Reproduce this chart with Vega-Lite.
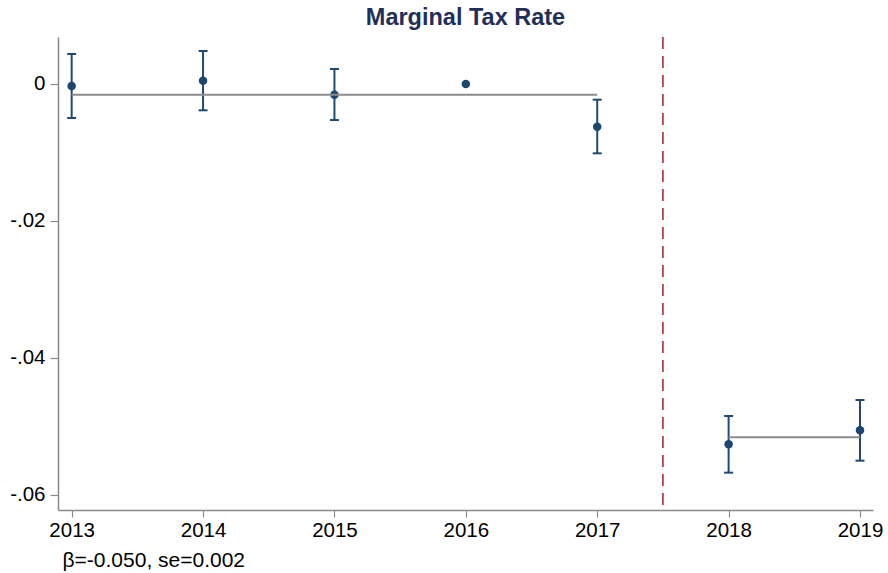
{
  "$schema": "https://vega.github.io/schema/vega-lite/v6.json",
  "width": 815,
  "height": 473,
  "autosize": {"type": "none"},
  "padding": {"left": 58, "top": 37, "right": 15, "bottom": 63},
  "background": "white",
  "title": {
    "text": "Marginal Tax Rate",
    "font": "Liberation Sans",
    "fontSize": 23.5,
    "fontWeight": "bold",
    "color": "#1f2f5a",
    "anchor": "middle",
    "frame": "group",
    "offset": 7
  },
  "datasets": {
    "coef": [
      {"year": 2013, "b": -0.00029, "lo": -0.00496, "hi": 0.00438},
      {"year": 2014, "b": 0.00048, "lo": -0.00384, "hi": 0.00482},
      {"year": 2015, "b": -0.00156, "lo": -0.00526, "hi": 0.00219},
      {"year": 2016, "b": 0.0, "lo": null, "hi": null},
      {"year": 2017, "b": -0.00623, "lo": -0.01012, "hi": -0.00229},
      {"year": 2018, "b": -0.0526, "lo": -0.05674, "hi": -0.04847},
      {"year": 2019, "b": -0.05055, "lo": -0.05499, "hi": -0.04613}
    ],
    "means": [
      {"from": 2013, "to": 2017, "mean": -0.00156},
      {"from": 2018, "to": 2019, "mean": -0.05158}
    ],
    "cutoff": [
      {"x": 2017.5}
    ]
  },
  "config": {
    "view": {"stroke": null},
    "axis": {
      "grid": false,
      "domainColor": "#8a8a8a",
      "domainWidth": 1.5,
      "tickColor": "#8a8a8a",
      "tickWidth": 1.2,
      "labelFont": "Liberation Sans",
      "labelFontSize": 20.5,
      "labelColor": "#000000",
      "titleFont": "Liberation Sans",
      "titleFontSize": 21,
      "titleFontWeight": "normal",
      "titleColor": "#000000"
    }
  },
  "encoding": {
    "x": {
      "type": "quantitative",
      "scale": {"domain": [2012.896, 2019.099], "nice": false, "zero": false},
      "axis": {
        "values": [2013, 2014, 2015, 2016, 2017, 2018, 2019],
        "format": "d",
        "tickSize": 7,
        "labelPadding": 3,
        "labelFlush": false,
        "title": "β=-0.050, se=0.002",
        "titleAnchor": "start",
        "titleAlign": "left",
        "titleBaseline": "alphabetic",
        "titleX": 4,
        "titleY": 56
      }
    },
    "y": {
      "type": "quantitative",
      "scale": {"domain": [-0.06219, 0.006861], "nice": false, "zero": false},
      "axis": {
        "values": [0, -0.02, -0.04, -0.06],
        "labelExpr": "datum.value == 0 ? '0' : '-.0' + toString(round(-datum.value * 100))",
        "tickSize": 8,
        "labelPadding": 5,
        "labelFlush": false,
        "title": null
      }
    }
  },
  "layer": [
    {
      "data": {"name": "cutoff"},
      "mark": {"type": "rule", "color": "#b5434d", "strokeWidth": 1.8, "strokeDash": [12, 7]},
      "encoding": {
        "x": {"field": "x"}
      }
    },
    {
      "data": {"name": "coef"},
      "transform": [{"filter": "datum.lo != null"}],
      "mark": {"type": "rule", "color": "#1f4a74", "strokeWidth": 2},
      "encoding": {
        "x": {"field": "year"},
        "y": {"field": "lo"},
        "y2": {"field": "hi"}
      }
    },
    {
      "data": {"name": "coef"},
      "transform": [{"filter": "datum.lo != null"}],
      "mark": {"type": "tick", "orient": "horizontal", "color": "#1f4a74", "size": 9, "thickness": 2, "opacity": 1},
      "encoding": {
        "x": {"field": "year"},
        "y": {"field": "lo"}
      }
    },
    {
      "data": {"name": "coef"},
      "transform": [{"filter": "datum.hi != null"}],
      "mark": {"type": "tick", "orient": "horizontal", "color": "#1f4a74", "size": 9, "thickness": 2, "opacity": 1},
      "encoding": {
        "x": {"field": "year"},
        "y": {"field": "hi"}
      }
    },
    {
      "data": {"name": "coef"},
      "mark": {"type": "circle", "color": "#1b4670", "size": 72, "opacity": 1},
      "encoding": {
        "x": {"field": "year"},
        "y": {"field": "b"}
      }
    },
    {
      "data": {"name": "means"},
      "mark": {"type": "rule", "color": "#8c8c8c", "strokeWidth": 2},
      "encoding": {
        "x": {"field": "from"},
        "x2": {"field": "to"},
        "y": {"field": "mean"}
      }
    }
  ]
}
